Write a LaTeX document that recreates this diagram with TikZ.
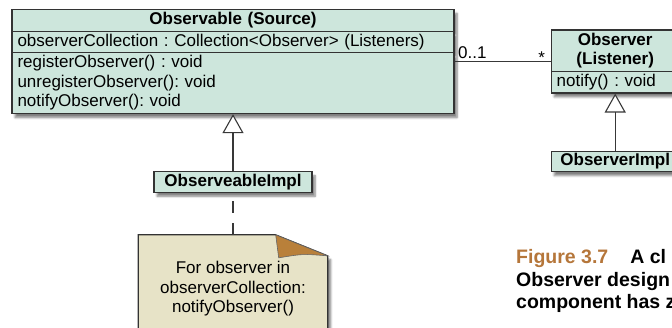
\documentclass[tikz,border=0pt]{standalone}
\usepackage{fontspec}
\setmainfont{Liberation Sans}
\usetikzlibrary{positioning}
\usetikzlibrary{calc}
\usetikzlibrary{backgrounds}
\usetikzlibrary{shapes.multipart}
\usetikzlibrary{shadows.blur}
\usetikzlibrary{arrows.meta}

\definecolor{classfill}{RGB}{205,230,220}
\definecolor{notefill}{RGB}{231,227,199}
\definecolor{foldbrown}{RGB}{185,128,58}
\definecolor{captionorange}{RGB}{181,118,58}
\newcommand{\rowstrut}{\rule[-5pt]{0pt}{18.5pt}}
\newcommand{\headrow}[1]{\makebox[\linewidth]{\rowstrut\textbf{#1}}}
\frenchspacing

\begin{document}
\begin{tikzpicture}[x=1pt, y=-1pt, font=\fontsize{17}{19.5}\selectfont, node distance = 57pt,
	softshadow/.style={blur shadow={shadow xshift=3pt, shadow yshift=-4pt, shadow blur steps=6, shadow opacity=50}},
	classbox/.style={rectangle split, rectangle split parts=#1, draw=black!80, line width=1.2pt, fill=classfill, inner xsep=5.5pt, inner ysep=1pt, align=left, softshadow},
	implbox/.style={rectangle, draw=black!80, line width=1.2pt, fill=classfill, inner xsep=5.5pt, inner ysep=1pt, softshadow},
	notetext/.style={align=center, minimum width=189pt, inner ysep=25pt},
	link/.style={draw=black!78, line width=1.1pt},
	gentip/.style={-{Triangle[length=19pt, width=21pt, fill=white]}},
	caption/.style={align=left, inner sep=0pt, font=\fontsize{19.5}{22.5}\selectfont\bfseries}]
	\useasboundingbox (0,0) rectangle (672,328);
	\clip (0,0) rectangle (672,328);
	\node[classbox=3, text width=431pt] (observable) at (233,61.5) {\headrow{Observable (Source)}
		\nodepart{two}\rowstrut observerCollection : Collection<Observer> (Listeners)
		\nodepart{three}\rowstrut registerObserver() : void\\\rowstrut unregisterObserver(): void\\\rowstrut notifyObserver(): void};
	\node[classbox=2, text width=117pt] (observer) [right = 96pt of observable] {\headrow{Observer}\\\headrow{(Listener)}
		\nodepart{two}\rowstrut notify() : void};
	\node[implbox, minimum width=128pt] (observerimpl) [below = of observer] {\textbf{\rowstrut ObserverImpl}};
	\node[implbox, minimum width=158pt] (observableimpl) [below = of observable] {\textbf{\rowstrut ObserveableImpl}};
	\node[notetext] (note) [below = 42pt of observableimpl] {\rowstrut For observer in\\\rowstrut observerCollection:\\\rowstrut notifyObserver()};
	\begin{scope}[on background layer]
		\filldraw[fill=notefill, draw=black!80, line width=1.2pt, softshadow] (note.north west) -- ($(note.north east)+(-52,0)$) -- ($(note.north east)+(0,21)$) -- (note.south east) -- (note.south west) -- cycle;
		\filldraw[fill=foldbrown, draw=black!60, line width=0.6pt] ($(note.north east)+(-52,0)$) .. controls ($(note.north east)+(-51,12)$) .. ($(note.north east)+(-49,23)$) .. controls ($(note.north east)+(-25,19)$) .. ($(note.north east)+(0,21)$) -- cycle;
	\end{scope}
	\draw[link] (observable) -- (observer)
		node[pos=0, anchor=base west, inner sep=0pt, xshift=3pt, yshift=2.5pt] {0..1}
		node[pos=1, anchor=base east, inner sep=0pt, xshift=-5pt, yshift=-2.5pt] {*};
	\draw[link, gentip] (observableimpl) -- (observable);
	\draw[link, gentip] (observerimpl) -- (observer);
	\draw[link, dash pattern=on 12pt off 10pt] (note) -- (observableimpl);
	\node[caption, anchor=north west] (figcaption) at (516,249.5) {\textcolor{captionorange}{Figure 3.7}\hspace{22pt}A cl\\Observer design\\component has z};
\end{tikzpicture}
\end{document}
